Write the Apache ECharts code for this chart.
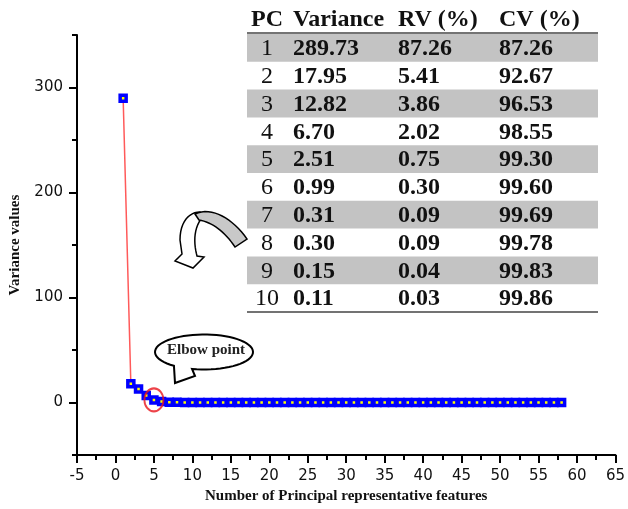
<!DOCTYPE html>
<html>
<head>
<meta charset="utf-8">
<script src="https://cdn.jsdelivr.net/npm/echarts@6/dist/echarts.min.js"></script>
<style>
  html, body { margin: 0; padding: 0; background: #fff; }
  #chart { width: 628px; height: 509px; }
</style>
</head>
<body>
<div id="chart"></div>
<script>
// scree values (PC 1..58)
const varianceValues = [
  289.73, 17.95, 12.82, 6.70, 2.51, 0.99, 0.31, 0.30, 0.15, 0.11,
  0.10, 0.09, 0.08, 0.08, 0.07, 0.06, 0.06, 0.05, 0.05, 0.04,
  0.04, 0.04, 0.03, 0.03, 0.03, 0.03, 0.02, 0.02, 0.02, 0.02,
  0.02, 0.02, 0.01, 0.01, 0.01, 0.01, 0.01, 0.01, 0.01, 0.01,
  0.01, 0.01, 0.01, 0.00, 0.00, 0.00, 0.00, 0.00, 0.00, 0.00,
  0.00, 0.00, 0.00, 0.00, 0.00, 0.00, 0.00, 0.00
];
const elbowPC = 5;

// table text
const tableHeaders = ["PC", "Variance", "RV (%)", "CV (%)"];
const tablePC = ["1", "2", "3", "4", "5", "6", "7", "8", "9", "10"];
const tableVariance = ["289.73", "17.95", "12.82", "6.70", "2.51", "0.99", "0.31", "0.30", "0.15", "0.11"];
const tableRV = ["87.26", "5.41", "3.86", "2.02", "0.75", "0.30", "0.09", "0.09", "0.04", "0.03"];
const tableCV = ["87.26", "92.67", "96.53", "98.55", "99.30", "99.60", "99.69", "99.78", "99.83", "99.86"];

const yLabelTicks = [0, 100, 200, 300];
const xMinorTicks = [-2.5, 2.5, 7.5, 12.5, 17.5, 22.5, 27.5, 32.5, 37.5, 42.5, 47.5, 52.5, 57.5, 62.5];

const serif = "'Liberation Serif', 'Times New Roman', serif";
const sans = "'DejaVu Sans', sans-serif";

const screeData = varianceValues.map((v, i) => [i + 1, v]);

// sample a cubic bezier into points (for the annotation shapes)
function bez(p0, p1, p2, p3, n) {
  const pts = [];
  for (let k = 0; k <= n; k++) {
    const t = k / n, u = 1 - t;
    pts.push([
      u * u * u * p0[0] + 3 * u * u * t * p1[0] + 3 * u * t * t * p2[0] + t * t * t * p3[0],
      u * u * u * p0[1] + 3 * u * u * t * p1[1] + 3 * u * t * t * p2[1] + t * t * t * p3[1],
    ]);
  }
  return pts;
}

// table as graphic elements
const tbl = { x: 247, w: 351, top: 34, rowH: 27.8 };
const tableEls = [];
tablePC.forEach((pc, i) => {
  const y = tbl.top + tbl.rowH * i;
  if (i % 2 === 0) {
    tableEls.push({
      type: "rect",
      shape: { x: tbl.x, y: y, width: tbl.w, height: tbl.rowH },
      style: { fill: "#c3c3c3" },
      silent: true,
    });
  }
  const cy = y + tbl.rowH / 2 + 1;
  const cells = [
    { text: pc, x: 267, align: "center", bold: false },
    { text: tableVariance[i], x: 293, align: "left", bold: true },
    { text: tableRV[i], x: 398, align: "left", bold: true },
    { text: tableCV[i], x: 499, align: "left", bold: true },
  ];
  cells.forEach((c) => {
    tableEls.push({
      type: "text",
      x: c.x,
      y: cy,
      style: {
        text: c.text,
        fill: "#111",
        font: (c.bold ? "bold " : "") + "24px " + serif,
        textAlign: c.align,
        textVerticalAlign: "middle",
      },
      silent: true,
    });
  });
});
const headerX = [267, 293, 398, 499];
tableHeaders.forEach((h, i) => {
  tableEls.push({
    type: "text",
    x: headerX[i],
    y: 20,
    style: {
      text: h,
      fill: "#111",
      font: "bold 24px " + serif,
      textAlign: i === 0 ? "center" : "left",
      textVerticalAlign: "middle",
    },
    silent: true,
  });
});
[33, tbl.top + tbl.rowH * tablePC.length].forEach((ly) => {
  tableEls.push({
    type: "line",
    shape: { x1: tbl.x, y1: ly, x2: tbl.x + tbl.w, y2: ly },
    style: { stroke: "#444", lineWidth: 1.5 },
    silent: true,
  });
});

// curved arrow
const arrowBack = []
  .concat(bez([200, 212], [189, 212], [180, 222], [180, 240], 12))
  .concat([[182, 254], [175, 261], [193, 268], [204, 257], [197, 256]])
  .concat(bez([197, 256], [194, 245], [193, 230], [201, 219], 12));
const arrowFront = []
  .concat(bez([195, 214], [212, 206], [233, 219], [247, 239], 16))
  .concat(bez([235, 247], [225, 232], [212, 222], [199, 220], 16));

// speech bubble: ellipse arc + tail
const bubble = { cx: 204, cy: 352, rx: 49, ry: 17.5 };
const bubblePts = [];
const a0 = Math.atan2((369 - bubble.cy) / bubble.ry, (192 - bubble.cx) / bubble.rx);
const a1 = Math.atan2((365.8 - bubble.cy) / bubble.ry, (174 - bubble.cx) / bubble.rx);
for (let k = 0; k <= 60; k++) {
  const a = a0 - (k / 60) * (2 * Math.PI - (a1 - a0));
  bubblePts.push([bubble.cx + bubble.rx * Math.cos(a), bubble.cy + bubble.ry * Math.sin(a)]);
}
bubblePts.push([175, 383], [195, 376]);

const noteEls = [
  {
    type: "polygon",
    shape: { points: arrowBack },
    style: { fill: "#fff", stroke: "#000", lineWidth: 1.5 },
    silent: true,
  },
  {
    type: "polygon",
    shape: { points: arrowFront },
    style: { fill: "#c8c8c8", stroke: "#000", lineWidth: 1.5 },
    silent: true,
  },
  {
    type: "polygon",
    shape: { points: bubblePts },
    style: { fill: "#fff", stroke: "#000", lineWidth: 2 },
    silent: true,
  },
  {
    type: "text",
    x: 206,
    y: 350,
    style: {
      text: "Elbow point",
      fill: "#222",
      font: "bold 15px " + serif,
      textAlign: "center",
      textVerticalAlign: "middle",
    },
    silent: true,
  },
];

const tickStyle = { color: "#000", width: 2 };

const chart = echarts.init(document.getElementById("chart"));
chart.setOption({
  animation: false,
  backgroundColor: "#fff",
  grid: { left: 76, right: 10, top: 35, bottom: 53, containLabel: false },
  xAxis: [
    {
      type: "value",
      min: -5,
      max: 65,
      interval: 5,
      name: "Number of Principal representative features",
      nameLocation: "middle",
      nameGap: 31,
      nameTextStyle: { fontFamily: serif, fontWeight: "bold", fontSize: 15, color: "#111" },
      axisLine: { onZero: false, lineStyle: tickStyle },
      axisTick: { show: true, length: 8, lineStyle: tickStyle },
      axisLabel: { margin: 14, fontFamily: sans, fontSize: 15, color: "#111" },
      splitLine: { show: false },
    },
    {
      // minor ticks
      type: "value",
      gridIndex: 0,
      min: -5,
      max: 65,
      position: "bottom",
      offset: 0,
      axisLine: { show: false, onZero: false },
      axisTick: { show: true, customValues: xMinorTicks, length: 5, lineStyle: tickStyle },
      axisLabel: { show: false },
      splitLine: { show: false },
    },
  ],
  yAxis: [
    {
      type: "value",
      min: -50,
      max: 350,
      name: "Variance values",
      nameLocation: "middle",
      nameGap: 54,
      nameTextStyle: { fontFamily: serif, fontWeight: "bold", fontSize: 15, color: "#111" },
      axisLine: { show: true, onZero: false, lineStyle: tickStyle },
      axisTick: { show: true, customValues: yLabelTicks, length: 8, lineStyle: tickStyle },
      axisLabel: { customValues: yLabelTicks, margin: 14, fontFamily: sans, fontSize: 15, color: "#111" },
      splitLine: { show: false },
    },
    {
      // minor ticks
      type: "value",
      min: -50,
      max: 350,
      interval: 50,
      position: "left",
      axisLine: { show: false, onZero: false },
      axisTick: { show: true, length: 5, lineStyle: tickStyle },
      axisLabel: { show: false },
      splitLine: { show: false },
    },
  ],
  series: [
    {
      type: "line",
      data: screeData,
      symbol: "rect",
      symbolSize: 6,
      lineStyle: { color: "#ff5a5a", width: 1.5 },
      itemStyle: { color: "#ffff00", borderColor: "#0000ff", borderWidth: 3.5 },
      z: 3,
    },
    {
      type: "scatter",
      data: [[elbowPC, varianceValues[elbowPC - 1]]],
      symbol: "circle",
      symbolSize: [19, 23],
      itemStyle: { color: "rgba(0,0,0,0)", borderColor: "#e8141c", borderWidth: 2 },
      z: 4,
    },
  ],
  graphic: tableEls.concat(noteEls),
});
</script>
</body>
</html>
